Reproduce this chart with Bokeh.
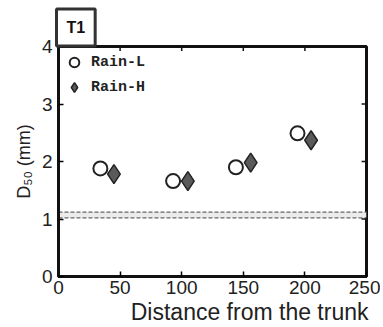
from bokeh.plotting import figure
from bokeh.models import Range1d, FixedTicker, Legend, LegendItem, Title
from bokeh.embed import file_html
from bokeh.resources import INLINE

# data
dist_L = [34, 93, 144, 194]
d50_L = [1.88, 1.66, 1.90, 2.49]
dist_H = [45, 105, 156, 205]
d50_H = [1.78, 1.66, 1.98, 2.37]
band_low = 1.02
band_high = 1.12
x_ticks = [0, 50, 100, 150, 200, 250]
y_ticks = [0, 1, 2, 3, 4]
x_min, x_max = 0, 250
y_min, y_max = 0, 4

p = figure(width=380, height=324, output_backend="svg", toolbar_location=None,
           x_range=Range1d(x_min, x_max), y_range=Range1d(y_min, y_max),
           min_border_left=58, min_border_right=14, min_border_top=46, min_border_bottom=8)
p.xgrid.visible = False
p.ygrid.visible = False
p.outline_line_color = "#111111"
p.outline_line_width = 3

# band between two reference lines
p.quad(left=[x_min], right=[x_max], bottom=[band_low], top=[band_high],
       fill_color="#ebebeb", line_color=None)
p.line(x=[x_min, x_max], y=[band_low, band_low], line_color="#666666", line_width=1.2,
       line_dash="4 2")
p.line(x=[x_min, x_max], y=[band_high, band_high], line_color="#666666", line_width=1.2,
       line_dash="4 2")

# ticks on top and right borders
p.segment(x0=x_ticks, x1=x_ticks, y0=[y_max] * len(x_ticks), y1=[y_max - 0.08] * len(x_ticks),
          line_color="#111111", line_width=1.5)
p.segment(x0=[x_max] * len(y_ticks), x1=[x_max - 4] * len(y_ticks), y0=y_ticks, y1=y_ticks,
          line_color="#111111", line_width=1.5)

rL = p.scatter(dist_L, d50_L, marker="circle", size=14, fill_color="white",
               line_color="#222222", line_width=2)
rH = p.scatter(dist_H, d50_H, marker="diamond", size=19, fill_color="#5a5a5a",
               line_color="#222222", line_width=1.5)

legend = Legend(items=[LegendItem(label="Rain-L", renderers=[rL]),
                       LegendItem(label="Rain-H", renderers=[rH])],
                location="top_left", border_line_color=None, background_fill_alpha=0,
                label_text_font="Liberation Mono", label_text_font_style="bold",
                label_text_font_size="15px", label_text_color="#222222",
                glyph_width=24, glyph_height=24, spacing=1,
                margin=4, padding=2, label_standoff=5)
p.add_layout(legend)

p.xaxis.ticker = FixedTicker(ticks=x_ticks)
p.yaxis.ticker = FixedTicker(ticks=y_ticks)
p.xaxis.axis_line_width = 3
p.yaxis.axis_line_width = 3
p.xaxis.axis_line_color = "#111111"
p.yaxis.axis_line_color = "#111111"
p.xaxis.major_tick_in = 5
p.yaxis.major_tick_in = 5
p.xaxis.major_tick_out = 0
p.yaxis.major_tick_out = 0
p.xaxis.major_tick_line_width = 1.5
p.yaxis.major_tick_line_width = 1.5
p.xaxis.minor_tick_line_color = None
p.yaxis.minor_tick_line_color = None
p.xaxis.major_label_text_font = "Liberation Sans"
p.yaxis.major_label_text_font = "Liberation Sans"
p.xaxis.major_label_text_font_size = "19px"
p.yaxis.major_label_text_font_size = "19px"
p.xaxis.major_label_text_color = "#222222"
p.yaxis.major_label_text_color = "#222222"
p.xaxis.major_label_standoff = 4
p.yaxis.major_label_standoff = 6

p.add_layout(Title(text="D₅₀ (mm)", align="center", text_font="Liberation Sans",
                   text_font_style="normal", text_font_size="18px", text_color="#222222",
                   standoff=10), "left")
p.add_layout(Title(text="Distance from the trunk", align="right", text_font="Liberation Sans",
                   text_font_style="normal", text_font_size="23px", text_color="#222222",
                   offset=-2, standoff=0), "below")
p.add_layout(Title(text="T1", align="left", text_font="Liberation Sans", text_font_style="bold",
                   text_font_size="16px", text_color="#111111", offset=-2, standoff=1,
                   border_line_color="#333333", border_line_width=3,
                   background_fill_color="white", padding=10), "above")

open("out.html", "w").write(file_html(p, INLINE))
